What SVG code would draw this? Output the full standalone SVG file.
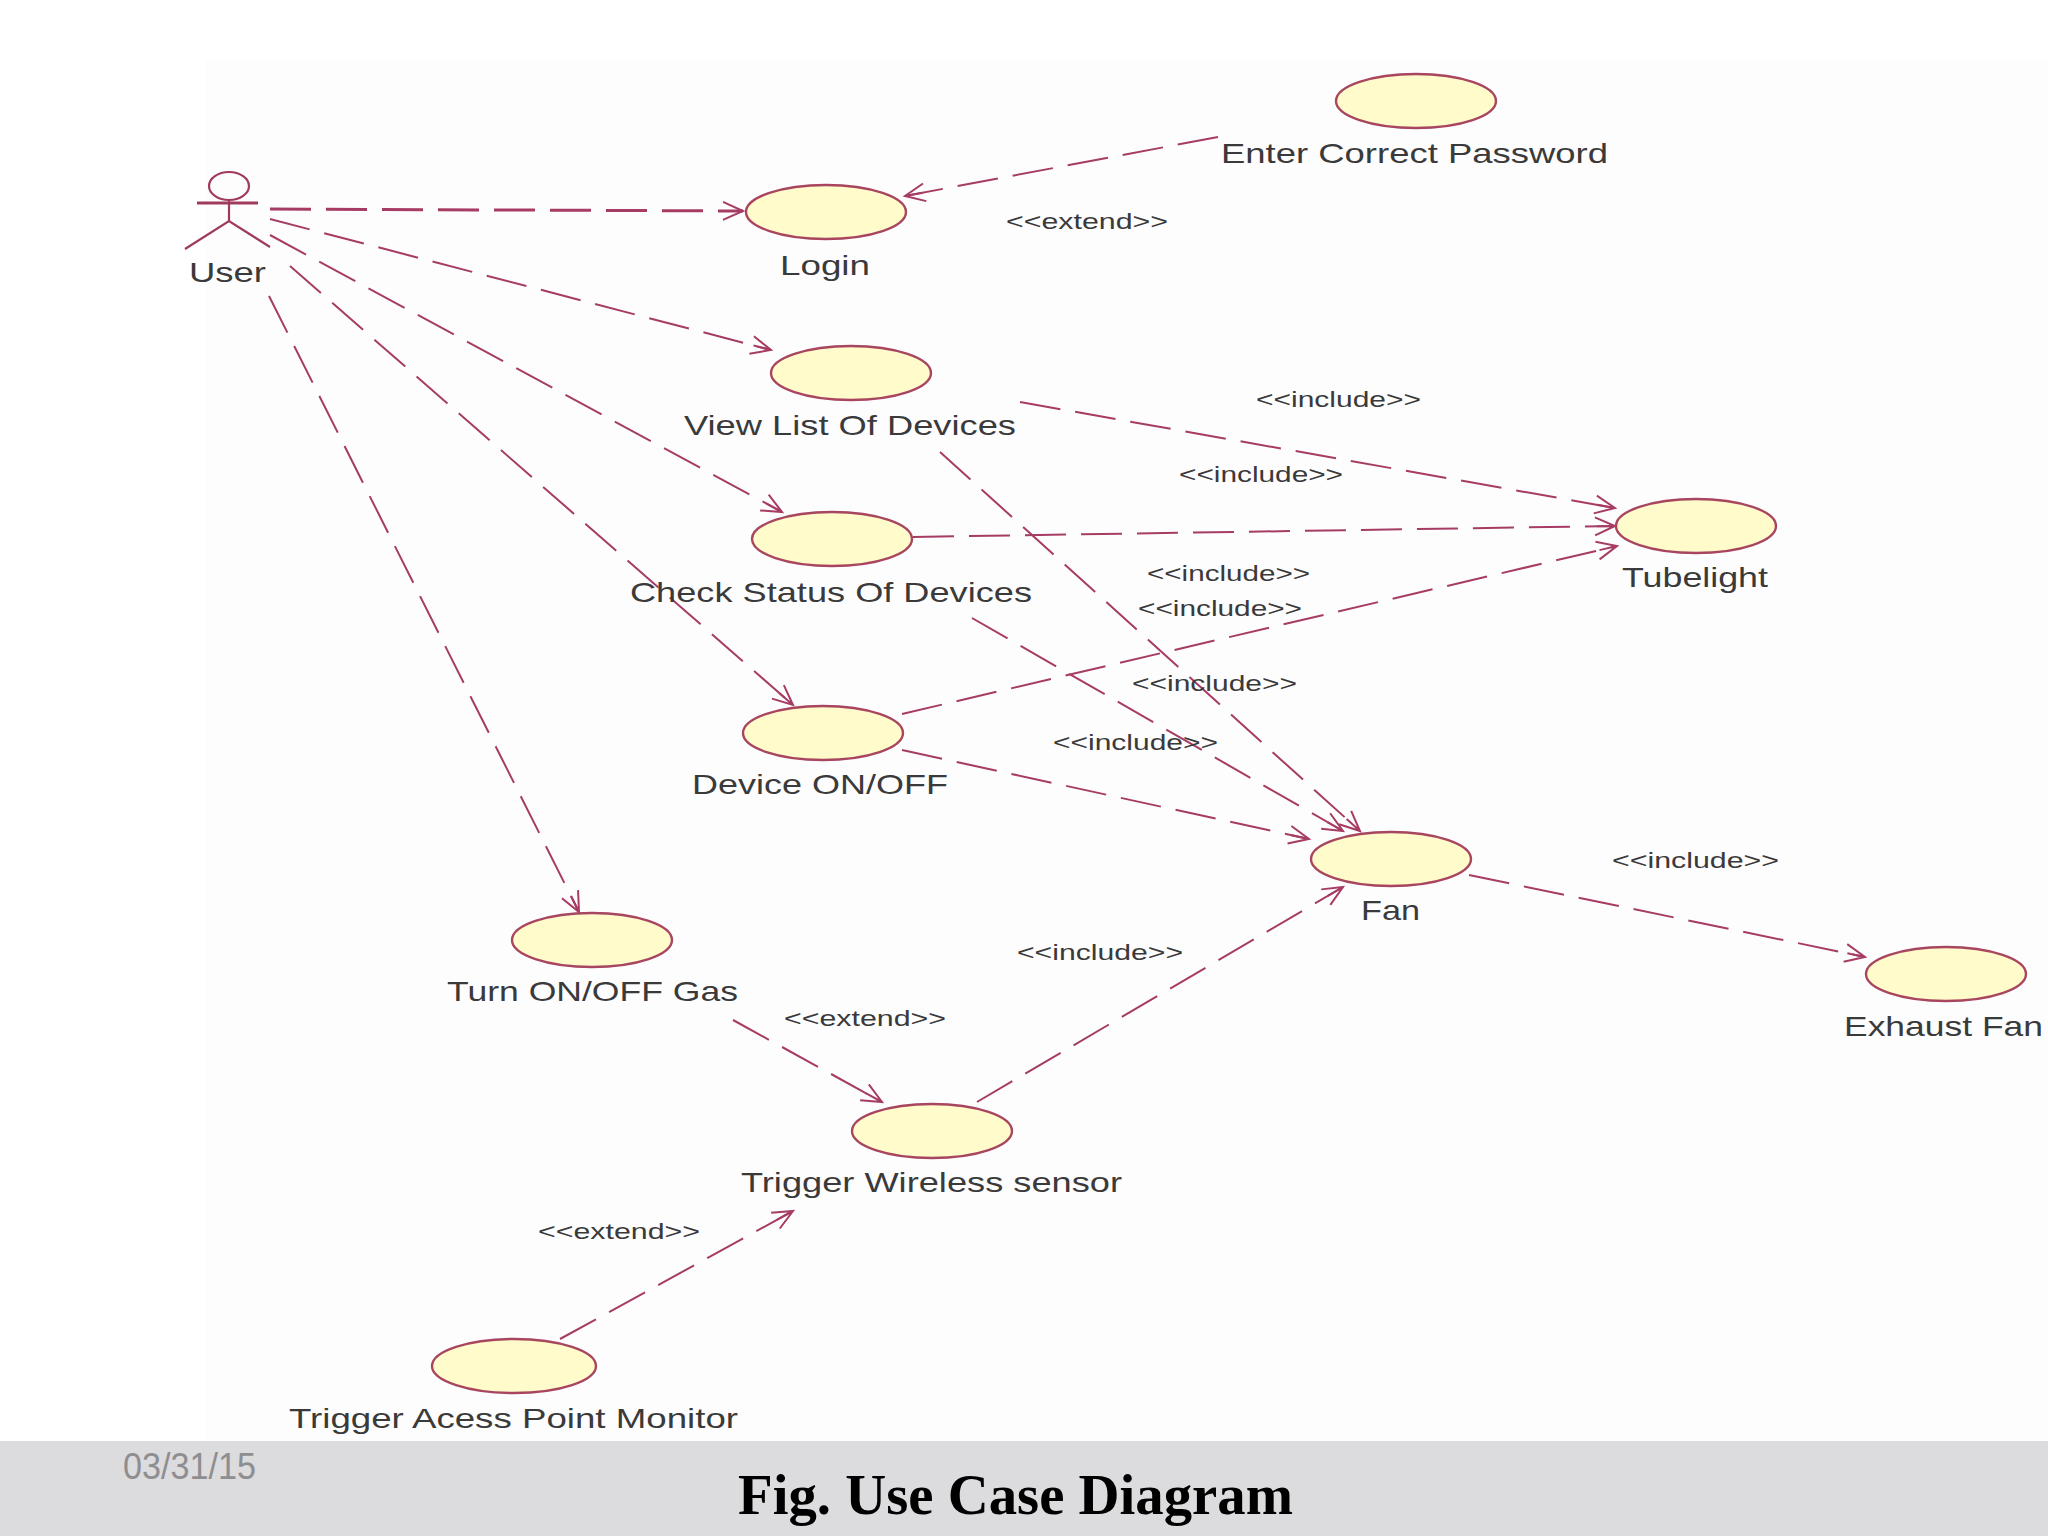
<svg xmlns="http://www.w3.org/2000/svg" width="2048" height="1536" viewBox="0 0 2048 1536">
<style>
.uc{fill:#fffbcb;stroke:#a8455f;stroke-width:2.4}
.act{fill:none;stroke:#a03a5c;stroke-width:2.2}
.c{fill:none;stroke:#a63c64;stroke-width:2;stroke-dasharray:41 15;marker-end:url(#a)}
.n{font-family:"Liberation Sans",Arial,sans-serif;font-size:28px;fill:#3a3a3a}
.s{font-family:"Liberation Sans",Arial,sans-serif;font-size:22px;fill:#3a3a3a}
</style>
<defs>
<marker id="a" markerUnits="userSpaceOnUse" markerWidth="30" markerHeight="24" refX="22" refY="12" orient="auto">
<path d="M2 3L22 12L2 21M4 12H22" fill="none" stroke="#a63c64" stroke-width="2"/>
</marker>
</defs>
<rect width="2048" height="1536" fill="#fff"/>
<rect x="205" y="60" width="1843" height="1381" fill="#fefdfe"/>
<rect y="1441" width="2048" height="95" fill="#dcdbde"/>
<g id="connectors">
<path class="c" d="M1218 137L905 196"/>
<path class="c" style="stroke-width:3" d="M270 209L743 211"/>
<path class="c" d="M270 219L771 350"/>
<path class="c" d="M270 235L782 512"/>
<path class="c" d="M290 266L793 705"/>
<path class="c" d="M269 296L579 912"/>
<path class="c" d="M1020 402L1615 508"/>
<path class="c" d="M913 537L1615 526"/>
<path class="c" d="M902 714L1617 546"/>
<path class="c" d="M940 452L1360 831"/>
<path class="c" d="M972 618L1343 831"/>
<path class="c" d="M902 750L1309 839"/>
<path class="c" d="M977 1102L1343 887"/>
<path class="c" d="M1469 875L1865 957"/>
<path class="c" d="M733 1020L882 1102"/>
<path class="c" d="M560 1339L793 1211"/>
</g>
<g id="user">
<ellipse class="act" cx="229" cy="186" rx="20" ry="14"/>
<path class="act" d="M197 203H258" style="stroke-width:3"/>
<path class="act" d="M229 200V221M185 249L229 221L270 247"/>
<text class="n" x="189" y="282" textLength="77" lengthAdjust="spacingAndGlyphs">User</text>
</g>
<g id="enter-correct-password">
<ellipse class="uc" cx="1416" cy="101" rx="80" ry="27"/>
<text class="n" x="1221" y="163" textLength="387" lengthAdjust="spacingAndGlyphs">Enter Correct Password</text>
</g>
<g id="login">
<ellipse class="uc" cx="826" cy="212" rx="80" ry="27"/>
<text class="n" x="780" y="275" textLength="90" lengthAdjust="spacingAndGlyphs">Login</text>
</g>
<g id="view-list">
<ellipse class="uc" cx="851" cy="373" rx="80" ry="27"/>
<text class="n" x="684" y="435" textLength="332" lengthAdjust="spacingAndGlyphs">View List Of Devices</text>
</g>
<g id="check-status">
<ellipse class="uc" cx="832" cy="539" rx="80" ry="27"/>
<text class="n" x="630" y="602" textLength="402" lengthAdjust="spacingAndGlyphs">Check Status Of Devices</text>
</g>
<g id="device-onoff">
<ellipse class="uc" cx="823" cy="733" rx="80" ry="27"/>
<text class="n" x="692" y="794" textLength="256" lengthAdjust="spacingAndGlyphs">Device ON/OFF</text>
</g>
<g id="tubelight">
<ellipse class="uc" cx="1696" cy="526" rx="80" ry="27"/>
<text class="n" x="1622" y="587" textLength="146" lengthAdjust="spacingAndGlyphs">Tubelight</text>
</g>
<g id="fan">
<ellipse class="uc" cx="1391" cy="859" rx="80" ry="27"/>
<text class="n" x="1361" y="920" textLength="59" lengthAdjust="spacingAndGlyphs">Fan</text>
</g>
<g id="exhaust-fan">
<ellipse class="uc" cx="1946" cy="974" rx="80" ry="27"/>
<text class="n" x="1844" y="1036" textLength="199" lengthAdjust="spacingAndGlyphs">Exhaust Fan</text>
</g>
<g id="turn-gas">
<ellipse class="uc" cx="592" cy="940" rx="80" ry="27"/>
<text class="n" x="447" y="1001" textLength="291" lengthAdjust="spacingAndGlyphs">Turn ON/OFF Gas</text>
</g>
<g id="trigger-wireless">
<ellipse class="uc" cx="932" cy="1131" rx="80" ry="27"/>
<text class="n" x="741" y="1192" textLength="381" lengthAdjust="spacingAndGlyphs">Trigger Wireless sensor</text>
</g>
<g id="trigger-access">
<ellipse class="uc" cx="514" cy="1366" rx="82" ry="27"/>
<text class="n" x="289" y="1428" textLength="449" lengthAdjust="spacingAndGlyphs">Trigger Acess Point Monitor</text>
</g>
<g id="stereotypes">
<text class="s" x="1006" y="229" textLength="162" lengthAdjust="spacingAndGlyphs">&lt;&lt;extend&gt;&gt;</text>
<text class="s" x="1256" y="407" textLength="165" lengthAdjust="spacingAndGlyphs">&lt;&lt;include&gt;&gt;</text>
<text class="s" x="1179" y="482" textLength="164" lengthAdjust="spacingAndGlyphs">&lt;&lt;include&gt;&gt;</text>
<text class="s" x="1147" y="581" textLength="163" lengthAdjust="spacingAndGlyphs">&lt;&lt;include&gt;&gt;</text>
<text class="s" x="1138" y="616" textLength="164" lengthAdjust="spacingAndGlyphs">&lt;&lt;include&gt;&gt;</text>
<text class="s" x="1132" y="691" textLength="165" lengthAdjust="spacingAndGlyphs">&lt;&lt;include&gt;&gt;</text>
<text class="s" x="1053" y="750" textLength="165" lengthAdjust="spacingAndGlyphs">&lt;&lt;include&gt;&gt;</text>
<text class="s" x="1017" y="960" textLength="166" lengthAdjust="spacingAndGlyphs">&lt;&lt;include&gt;&gt;</text>
<text class="s" x="1612" y="868" textLength="167" lengthAdjust="spacingAndGlyphs">&lt;&lt;include&gt;&gt;</text>
<text class="s" x="784" y="1026" textLength="162" lengthAdjust="spacingAndGlyphs">&lt;&lt;extend&gt;&gt;</text>
<text class="s" x="538" y="1239" textLength="162" lengthAdjust="spacingAndGlyphs">&lt;&lt;extend&gt;&gt;</text>
</g>
<text x="123" y="1479" font-family="'Liberation Sans',Arial,sans-serif" font-size="36" fill="#8e8e90" textLength="133" lengthAdjust="spacingAndGlyphs">03/31/15</text>
<text x="738" y="1514" font-family="'Liberation Serif','Times New Roman',serif" font-size="56" font-weight="bold" fill="#000" textLength="555" lengthAdjust="spacingAndGlyphs">Fig. Use Case Diagram</text>
</svg>
